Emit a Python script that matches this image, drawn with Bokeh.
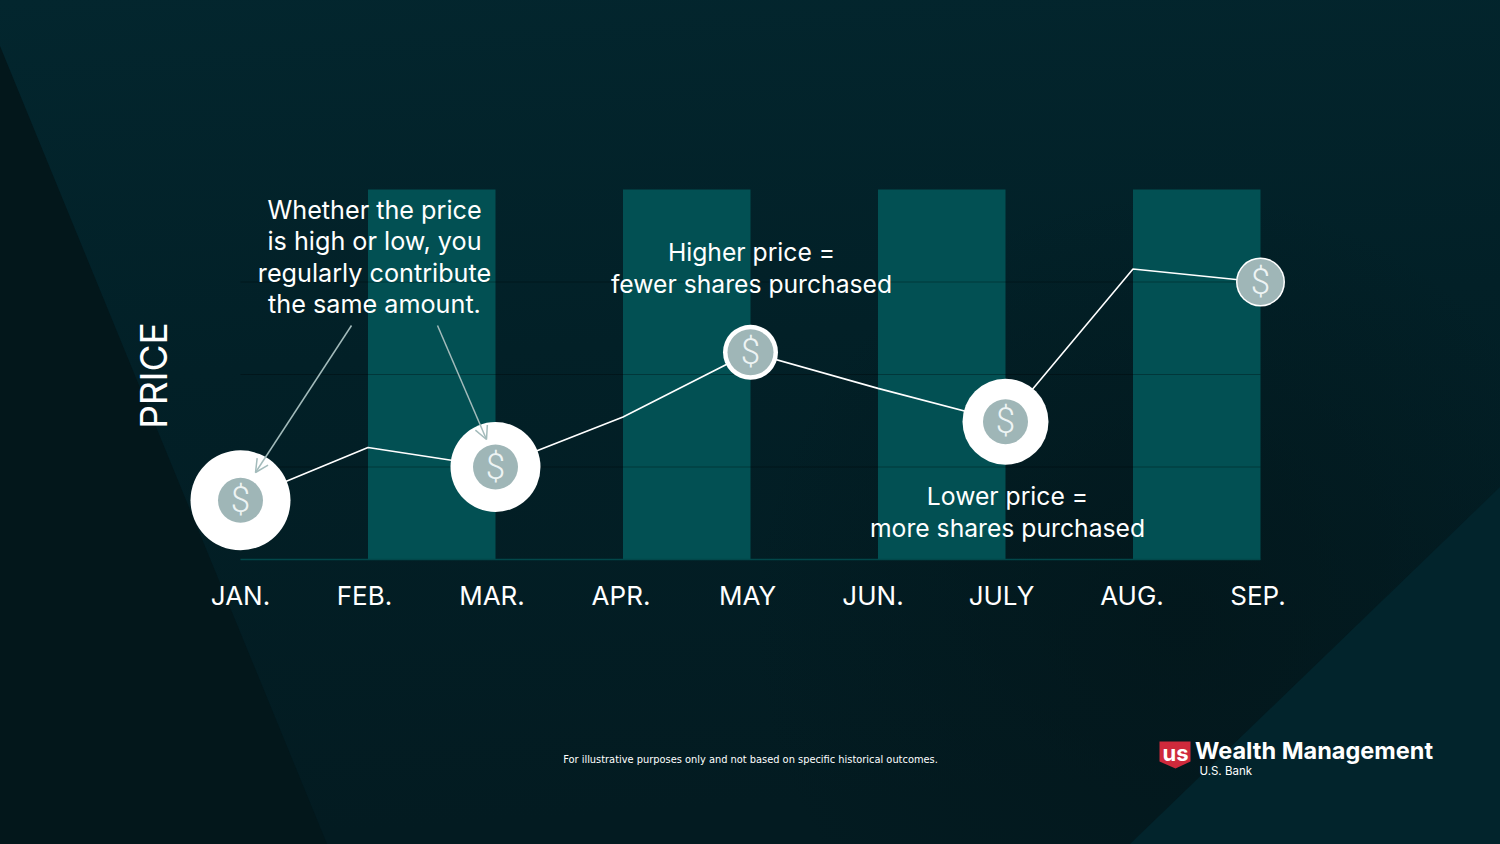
from urllib.parse import quote
from bokeh.plotting import figure
from bokeh.models import Range1d, Arrow, OpenHead, GlobalInlineStyleSheet
from bokeh.core.properties import value
from bokeh.embed import file_html
from bokeh.resources import INLINE

months = ["JAN.", "FEB.", "MAR.", "APR.", "MAY", "JUN.", "JULY", "AUG.", "SEP."]
price = [6.4, 12.1, 10.0, 15.4, 22.4, 18.5, 14.9, 31.4, 30.0]
marker_months = [0, 2, 4, 6, 8]
band_starts = [1, 3, 5, 7]
band_top = 40
gridlines = [10, 20, 30]

note_left = ["Whether the price", "is high or low, you", "regularly contribute", "the same amount."]
note_high = ["Higher price =", "fewer shares purchased"]
note_low = ["Lower price =", "more shares purchased"]
footnote = "For illustrative purposes only and not based on specific historical outcomes."

# page-pixel layout helpers (the figure fills the page)
W, H = 1500, 844
STEP_X, STEP_Y, X0, Y0 = 127.5, 9.25, 240, 559
def dx(px): return (px - X0) / STEP_X
def dy(py): return (Y0 - py) / STEP_Y

svg = ("<svg xmlns='http://www.w3.org/2000/svg' width='1500' height='844' viewBox='0 0 1500 844'>"
       "<defs><linearGradient id='g' x1='0' y1='0' x2='0.12' y2='1'>"
       "<stop offset='0' stop-color='#03262e'/><stop offset='0.45' stop-color='#022027'/>"
       "<stop offset='1' stop-color='#031b21'/></linearGradient>"
       "<radialGradient id='d' gradientUnits='userSpaceOnUse' cx='1180' cy='620' r='430'>"
       "<stop offset='0' stop-color='#03161a' stop-opacity='0.75'/><stop offset='1' stop-color='#03161a' stop-opacity='0'/></radialGradient></defs>"
       "<rect width='1500' height='844' fill='url(#g)'/>"
       "<rect width='1500' height='844' fill='url(#d)'/>"
       "<polygon points='0,46 327,844 0,844' fill='#03171b'/>"
       "<polygon points='1500,487 1500,844 1130,844' fill='#02242c'/></svg>")
css = ("html,body{background-color:#02202a;background-image:url(\"data:image/svg+xml," + quote(svg) + "\");"
       "background-repeat:no-repeat;background-size:1500px 844px;}")

p = figure(width=W, height=H, output_backend="svg", toolbar_location=None,
           x_range=Range1d(dx(0), dx(W)), y_range=Range1d(dy(H), dy(0)),
           min_border=0, outline_line_color=None,
           background_fill_alpha=0, border_fill_alpha=0)
p.axis.visible = False
p.grid.visible = False
p.stylesheets = [GlobalInlineStyleSheet(css=css)]

p.quad(left=band_starts, right=[b + 1 for b in band_starts], bottom=0, top=band_top,
       fill_color="#025053", line_color=None)
p.segment(x0=[0] * 3, x1=[8] * 3, y0=gridlines, y1=gridlines, line_color="#000000", line_alpha=0.3, line_width=1)
p.segment(x0=[0], x1=[8], y0=[0], y1=[0], line_color="#02474a", line_width=1.5)

p.line(list(range(9)), price, line_color="#ffffff", line_width=1.6)

mx = marker_months
my = [price[i] for i in mx]
outer = [100, 90, 55, 86, 49]
inner = [45, 45, 46, 45, 46]
p.scatter(mx, my, size=outer, fill_color="#ffffff", line_color=None)
p.scatter(mx, my, size=inner, fill_color="#9fb6b7", line_color=None)
p.text(mx, my, text=["$"] * 5, text_color="#eef4f4", text_font=value("Roboto Light"), text_font_size="35px",
       text_align="center", text_baseline="middle")

for x0, x1 in ((351, 255), (437, 486)):
    y0, y1 = (325, 472) if x0 == 351 else (325, 439)
    p.add_layout(Arrow(end=OpenHead(size=13, line_color="#a3bbbb", line_width=1.5),
                       x_start=dx(x0), y_start=dy(y0), x_end=dx(x1), y_end=dy(y1),
                       line_color="#a3bbbb", line_width=1.5))

FONT = value("Inter")
def texts(lines, px, pys, size, color="#ffffff", font=FONT, align="center", style="normal", angle=0):
    p.text([dx(px)] * len(lines), [dy(y) for y in pys], text=lines, text_color=color, text_font=font,
           text_font_size=size, text_align=align, text_baseline="middle", text_font_style=style, angle=angle)

texts(note_left, 374, [209, 240.5, 272, 303.5], "25.2px")
texts(note_high, 751, [251, 283], "24.7px")
texts(note_low, 1007, [495, 527], "24.7px")
texts(["PRICE"], 153, [375], "37px", angle=1.5708)

label_offsets = [0, -3.5, -3.5, -2, -3, -5, -4, -1, -2.5]
p.text(list(range(9)), [dy(594.5)] * 9, text=months, x_offset=label_offsets, text_color="#ffffff", text_font=FONT,
       text_font_size="26px", text_align="center", text_baseline="middle")

texts([footnote], 750, [759], "10.95px", font=value("DejaVu Sans Condensed"))

# logo
p.patch([dx(v) for v in (1159, 1190, 1190, 1175, 1159)], [dy(v) for v in (741, 741, 761, 768, 761)],
        fill_color="#cf2a3c", line_color=None)
texts(["us"], 1175, [752], "22px", style="bold", font=value("Inter"))
texts(["Wealth Management"], 1194.5, [750], "23.5px", align="left", font=value("Inter"), style="bold")
texts(["U.S. Bank"], 1199, [770], "11.5px", align="left", font=value("Inter"))

open("out.html", "w").write(file_html(p, INLINE))
